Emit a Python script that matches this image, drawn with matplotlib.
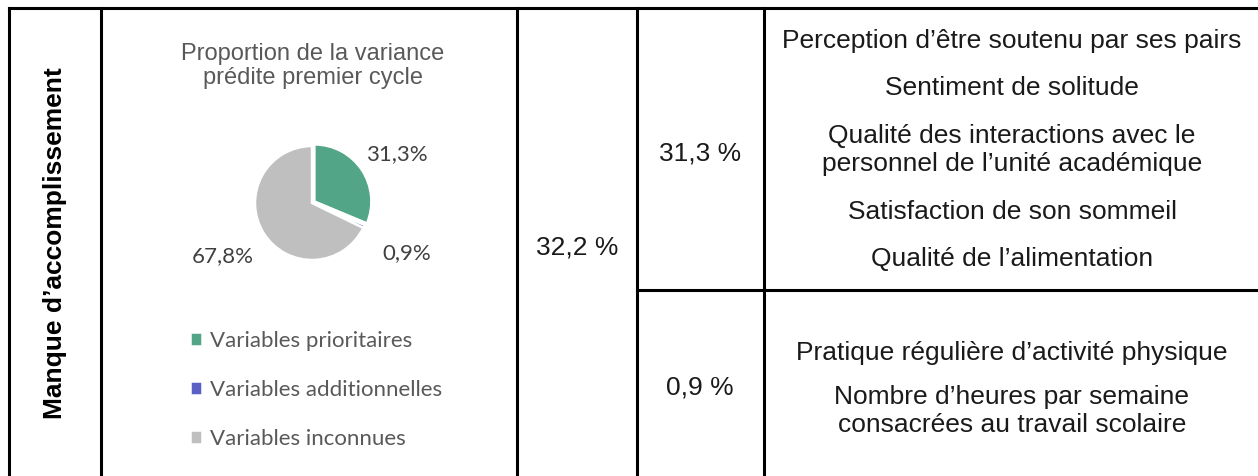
import matplotlib.pyplot as plt
from matplotlib.lines import Line2D

# pie data
parts = [31.3, 0.9, 67.8]
part_names = ['Variables prioritaires', 'Variables additionnelles', 'Variables inconnues']
part_colors = ['#52A587', '#5B60C4', '#BFBFBF']
pie_title = 'Proportion de la variance\nprédite premier cycle'

# table texts
row_label = 'Manque d\u2019accomplissement'
total_share = '32,2 %'
group_shares = ['31,3 %', '0,9 %']
group_vars = [
    ['Perception d\u2019être soutenu par ses pairs',
     'Sentiment de solitude',
     'Qualité des interactions avec le\npersonnel de l\u2019unité académique',
     'Satisfaction de son sommeil',
     'Qualité de l\u2019alimentation'],
    ['Pratique régulière d\u2019activité physique',
     'Nombre d\u2019heures par semaine\nconsacrées au travail scolaire'],
]

W, H = 1258, 476
fig = plt.figure(figsize=(W / 100, H / 100), dpi=100)
fig.patch.set_facecolor('white')

# full-size axes in pixel coordinates for the table grid
tab = fig.add_axes([0, 0, 1, 1])
tab.set_xlim(0, W)
tab.set_ylim(H, 0)
tab.axis('off')

lw = 2.2
top = 7.5
tab.add_line(Line2D([8.5, W], [top, top], color='black', lw=lw))
for x in [8.5, 101, 517, 637, 764]:
    tab.add_line(Line2D([x, x], [top, H], color='black', lw=lw))
tab.add_line(Line2D([637, W], [290, 290], color='black', lw=lw))

sans = 'Liberation Sans'
ink = '#1a1a1a'
tab.text(55, 243, row_label, rotation=90, ha='center', va='center',
         fontsize=19, fontweight='bold', family=sans, color='black')
tab.text(577, 247, total_share, ha='center', va='center', fontsize=19,
         family=sans, color=ink)
tab.text(700, 153, group_shares[0], ha='center', va='center', fontsize=19,
         family=sans, color=ink)
tab.text(700, 387, group_shares[1], ha='center', va='center', fontsize=19,
         family=sans, color=ink)

ys_top = [41, 88, 150, 212, 259]
ys_bot = [353, 411]
for txt, y in zip(group_vars[0], ys_top):
    tab.text(1012, y, txt, ha='center', va='center', fontsize=19,
             family=sans, color=ink, linespacing=1.2)
for txt, y in zip(group_vars[1], ys_bot):
    tab.text(1012, y, txt, ha='center', va='center', fontsize=19,
             family=sans, color=ink, linespacing=1.2)

# pie title
tab.text(313, 66, pie_title, ha='center', va='center', fontsize=17,
         family=sans, color='#595959', linespacing=1.15)

# pie chart
cx, cy, r = 312, 203, 57
box = 2 * r * 1.05
pax = fig.add_axes([(cx - box / 2) / W, (H - cy - box / 2) / H, box / W, box / H])
wedges, texts = pax.pie(parts, colors=part_colors, startangle=90, counterclock=False,
                        explode=[0.05, 0, 0],
                        labels=[f'{v:.1f}%'.replace('.', ',') for v in parts],
                        labeldistance=1.8,
                        wedgeprops=dict(edgecolor='white', linewidth=1.8))
# label spots, in pie radii, as Excel places them
label_spots = [(1.49, 0.86), (1.67, -0.88), (-1.56, -0.93)]
for t, pos in zip(texts, label_spots):
    t.set_position(pos)
    t.set_ha('center')
    t.set_va('center')
    t.set_fontsize(16)
    t.set_family('Lato')
    t.set_color('#404040')
pax.set_xlim(-1.05, 1.05)
pax.set_ylim(-1.05, 1.05)
pax.set_aspect('equal')

leg = fig.legend(wedges, part_names, loc='upper left',
                 bbox_to_anchor=(190 / W, 1 - 331 / H), frameon=False,
                 handlelength=0.55, handleheight=0.55, handletextpad=0.35,
                 labelspacing=1.3, prop={'family': 'Lato', 'size': 16},
                 borderaxespad=0, borderpad=0)
for t in leg.get_texts():
    t.set_color('#595959')

fig.savefig('out.png', dpi=100)
